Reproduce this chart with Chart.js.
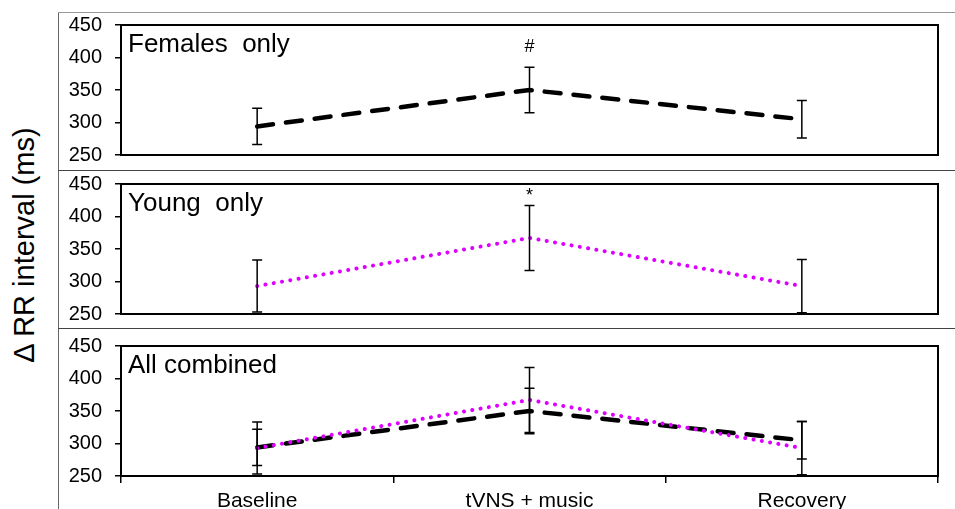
<!DOCTYPE html>
<html>
<head>
<meta charset="utf-8">
<script src="https://cdn.jsdelivr.net/npm/chart.js@4"></script>
<style>
  body { margin: 0; background: #fff; width: 955px; height: 509px; overflow: hidden; position: relative; font-family: "Liberation Sans", Arial, sans-serif; }
  .panel { position: absolute; left: 58px; width: 897px; }
  .hline { position: absolute; left: 58px; width: 897px; height: 0; }
  #ytitle { position: absolute; left: 24px; top: 245px; transform: translate(-50%, -50%) rotate(-90deg); font-size: 29px; white-space: nowrap; color: #000; }
</style>
</head>
<body>
<div style="position:absolute;left:58px;top:12px;width:0;height:497px;border-left:1px solid #666;"></div>
<div class="hline" style="top:12px;border-top:1px solid #999;"></div>
<div class="hline" style="top:170px;border-top:1px solid #444;"></div>
<div class="hline" style="top:328px;border-top:1px solid #444;"></div>
<div id="ytitle">Δ RR interval (ms)</div>
<div class="panel" style="top:13px;height:157px;"><canvas id="p1"></canvas></div>
<div class="panel" style="top:171px;height:157px;"><canvas id="p2"></canvas></div>
<div class="panel" style="top:329px;height:180px;"><canvas id="p3"></canvas></div>
<script>
(function() {
    'use strict';

    // Data
    var categories = ['Baseline', 'tVNS + music', 'Recovery'];
    var femalesMean = [294, 350, 305];
    var femalesErr = [28, 35, 29];
    var femalesMarks = ['', '#', ''];
    var youngMean = [293, 367, 293];
    var youngErr = [40, 50, 41];
    var youngMarks = ['', '*', ''];
    var yTicks = [250, 300, 350, 400, 450];

    var FONT = '"Liberation Sans", Arial, sans-serif';
    var MAGENTA = '#DD00FF';

    // Box, error bars, panel caption, significance marks
    var panelDecor = {
        id: 'panelDecor',
        afterDatasetsDraw: function(chart, args, opts) {
            var ctx = chart.ctx;
            var a = chart.chartArea;
            var xs = chart.scales.x, ys = chart.scales.y;
            ctx.save();
            chart.data.datasets.forEach(function(ds) {
                ctx.strokeStyle = '#000';
                ctx.lineWidth = 1.5;
                ds.data.forEach(function(v, i) {
                    var x = xs.getPixelForValue(i);
                    var top = ys.getPixelForValue(v + ds.errors[i]);
                    var bot = ys.getPixelForValue(v - ds.errors[i]);
                    ctx.beginPath();
                    ctx.moveTo(x, top); ctx.lineTo(x, bot);
                    ctx.moveTo(x - 5, top); ctx.lineTo(x + 5, top);
                    ctx.moveTo(x - 5, bot); ctx.lineTo(x + 5, bot);
                    ctx.stroke();
                    if (ds.marks && ds.marks[i]) {
                        // '*' sits high in the em box, so it needs less lift than '#'
                        var lift = ds.marks[i] === '*' ? 4 : 15;
                        ctx.fillStyle = '#000';
                        ctx.font = '18px ' + FONT;
                        ctx.textAlign = 'center';
                        ctx.textBaseline = 'alphabetic';
                        ctx.fillText(ds.marks[i], x, top - lift);
                    }
                });
            });
            ctx.strokeStyle = '#000';
            ctx.lineWidth = 2;
            ctx.strokeRect(a.left, a.top, a.right - a.left, a.bottom - a.top);
            ctx.fillStyle = '#000';
            ctx.font = '26px ' + FONT;
            ctx.textAlign = 'left';
            ctx.textBaseline = 'middle';
            ctx.fillText(opts.caption, a.left + 7, a.top + 20);
            ctx.restore();
        }
    };

    function femalesSet() {
        return {
            label: 'Females', data: femalesMean, errors: femalesErr, marks: null,
            borderColor: '#000', borderWidth: 4.5, borderDash: [16, 13],
            borderCapStyle: 'round', pointRadius: 0, tension: 0, fill: false
        };
    }
    function youngSet() {
        return {
            label: 'Young', data: youngMean, errors: youngErr, marks: null,
            borderColor: MAGENTA, borderWidth: 4, borderDash: [0.1, 8.3],
            borderCapStyle: 'round', pointRadius: 0, tension: 0, fill: false
        };
    }

    function makePanel(id, datasets, caption, pad, showX) {
        var ctx = document.getElementById(id).getContext('2d');
        return new Chart(ctx, {
            type: 'line',
            data: { labels: categories, datasets: datasets },
            options: {
                responsive: true,
                maintainAspectRatio: false,
                animation: false,
                events: [],
                layout: { padding: pad },
                plugins: {
                    legend: { display: false },
                    tooltip: { enabled: false },
                    panelDecor: { caption: caption }
                },
                scales: {
                    x: {
                        type: 'category',
                        offset: true,
                        display: showX,
                        grid: { offset: true, drawOnChartArea: false, tickLength: 7, color: '#000', lineWidth: 1.5 },
                        border: { display: true, color: '#000', width: 2 },
                        ticks: { color: '#000', font: { family: FONT, size: 21 }, padding: 6, maxRotation: 0 },
                        afterFit: function(s) { if (showX) { s.height = 33; } s.paddingLeft = 0; s.paddingRight = 0; }
                    },
                    y: {
                        min: 250, max: 450,
                        afterBuildTicks: function(s) { s.ticks = yTicks.map(function(v) { return { value: v }; }); },
                        grid: { drawOnChartArea: false, tickLength: 6, color: '#000', lineWidth: 1.5 },
                        border: { display: true, color: '#000', width: 2 },
                        ticks: { color: '#000', font: { family: FONT, size: 20 }, padding: 13, autoSkip: false },
                        afterFit: function(s) { s.width = 63; s.paddingTop = 0; s.paddingBottom = 0; }
                    }
                }
            },
            plugins: [panelDecor]
        });
    }

    var f1 = femalesSet(); f1.marks = femalesMarks;
    makePanel('p1', [f1], 'Females  only', { top: 12, bottom: 15, left: 0, right: 17 }, false);

    var y2 = youngSet(); y2.marks = youngMarks;
    makePanel('p2', [y2], 'Young  only', { top: 13, bottom: 14, left: 0, right: 17 }, false);

    makePanel('p3', [youngSet(), femalesSet()], 'All combined', { top: 17, bottom: 0, left: 0, right: 17 }, true);
})();
</script>
</body>
</html>
